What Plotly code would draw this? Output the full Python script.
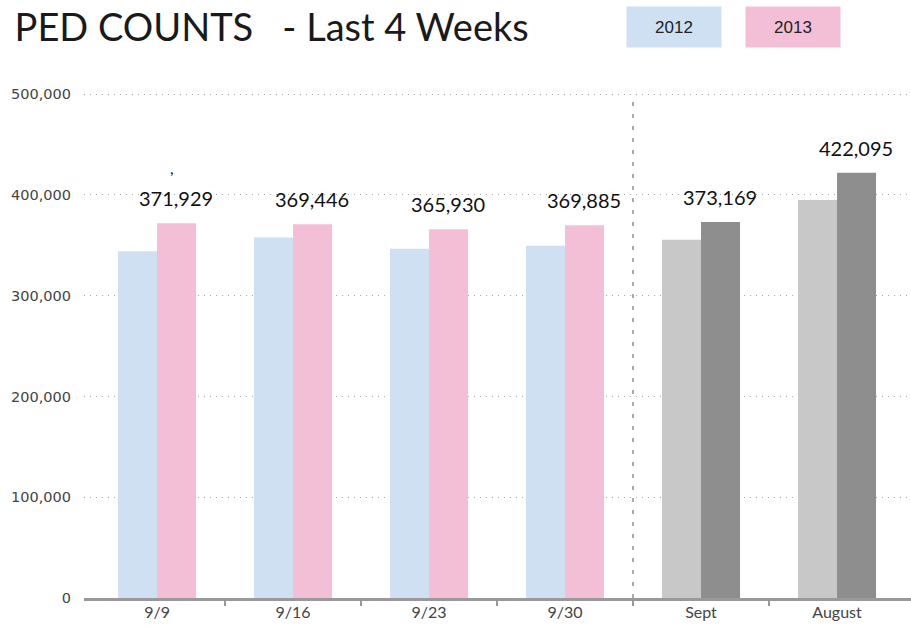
import plotly.graph_objects as go

# chart data
categories = ['9/9', '9/16', '9/23', '9/30', 'Sept', 'August']
counts_2012 = [344000, 357700, 346500, 349500, 355400, 395000]
counts_2013 = [371929, 371000, 365930, 369885, 373169, 422095]
labels_2013 = ['371,929', '369,446', '365,930', '369,885', '373,169', '422,095']
y_ticks = [0, 100000, 200000, 300000, 400000, 500000]
y_tick_text = ['0', '100,000', '200,000', '300,000', '400,000', '500,000']

colors_2012 = ['#cfe0f3'] * 4 + ['#c8c8c8'] * 2
colors_2013 = ['#f3bfd7'] * 4 + ['#8e8e8e'] * 2

label_font = 'Lato, Open Sans, sans-serif'
x_range = [-0.537, 5.544]

fig = go.Figure()

fig.add_trace(go.Bar(name='2012', x=categories, y=counts_2012,
                     marker_color=colors_2012, marker_line_width=0))
fig.add_trace(go.Bar(name='2013', x=categories, y=counts_2013,
                     marker_color=colors_2013, marker_line_width=0))

# value labels over the 2013 bars
for cat, val, txt in zip(categories, counts_2013, labels_2013):
	fig.add_annotation(x=cat, y=val, text=txt, showarrow=False,
	                   xshift=19, yshift=11, yanchor='bottom',
	                   font=dict(family=label_font, size=20, color='#111111'))

# stray comma in the original
fig.add_annotation(x=categories[0], y=427000, text=',', showarrow=False,
                   xshift=15, font=dict(family=label_font, size=16, color='#111111'))

# legend boxes
for name, col, xp in [('2012', '#cfe0f3', 0.713), ('2013', '#f3bfd7', 0.857)]:
	fig.add_annotation(xref='paper', yref='paper', x=xp, y=1.0905, text=name,
	                   xanchor='center', yanchor='middle',
	                   showarrow=False, bgcolor=col, width=92, height=38,
	                   font=dict(family='Liberation Sans, Arial, sans-serif', size=17, color='#222222'))

# separator between weeks and months
fig.add_shape(type='line', xref='x', yref='y', x0=3.5, x1=3.5, y0=0, y1=500000,
              line=dict(color='#aaaaaa', width=2, dash='4px,8px'))

fig.update_layout(
	width=911, height=638,
	margin=dict(l=84, r=0, t=74, b=40),
	paper_bgcolor='white', plot_bgcolor='white',
	barmode='group', bargap=0.426, bargroupgap=0,
	showlegend=False,
	title=dict(text='PED COUNTS   - Last 4 Weeks', xref='container', yref='container',
	           x=0.016, xanchor='left', y=0.956, yanchor='middle',
	           font=dict(family=label_font, size=38, color='#1a1a1a')),
	xaxis=dict(range=x_range, showgrid=False, zeroline=False,
	           showline=True, linecolor='#999999', linewidth=3, ticks='',
	           ticklabelstandoff=-2,
	           tickfont=dict(family=label_font, size=16, color='#444444')),
	xaxis2=dict(overlaying='x', range=x_range, showgrid=False, zeroline=False,
	            tickvals=[0.5, 1.5, 2.5, 3.5, 4.5], showticklabels=False,
	            ticks='outside', ticklen=7, tickwidth=2, tickcolor='#999999',
	            anchor='y', side='bottom'),
	yaxis=dict(range=[0, 520000], tickvals=y_ticks, ticktext=y_tick_text,
	           showgrid=True, gridcolor='#aaaaaa', griddash='1px,5px', gridwidth=1,
	           zeroline=False, ticks='', ticklabelstandoff=12,
	           tickfont=dict(family='DejaVu Sans, sans-serif', size=14.5, color='#444444')),
)

# invisible trace so the tick axis is drawn
fig.add_trace(go.Scatter(x=[0], y=[0], xaxis='x2', mode='markers',
                         marker=dict(opacity=0), hoverinfo='skip'))

# drop the default page margin so the figure sits at the window corner
fig.write_html("out.html", config={'displayModeBar': False},
               post_script="document.body.style.margin='0';")
